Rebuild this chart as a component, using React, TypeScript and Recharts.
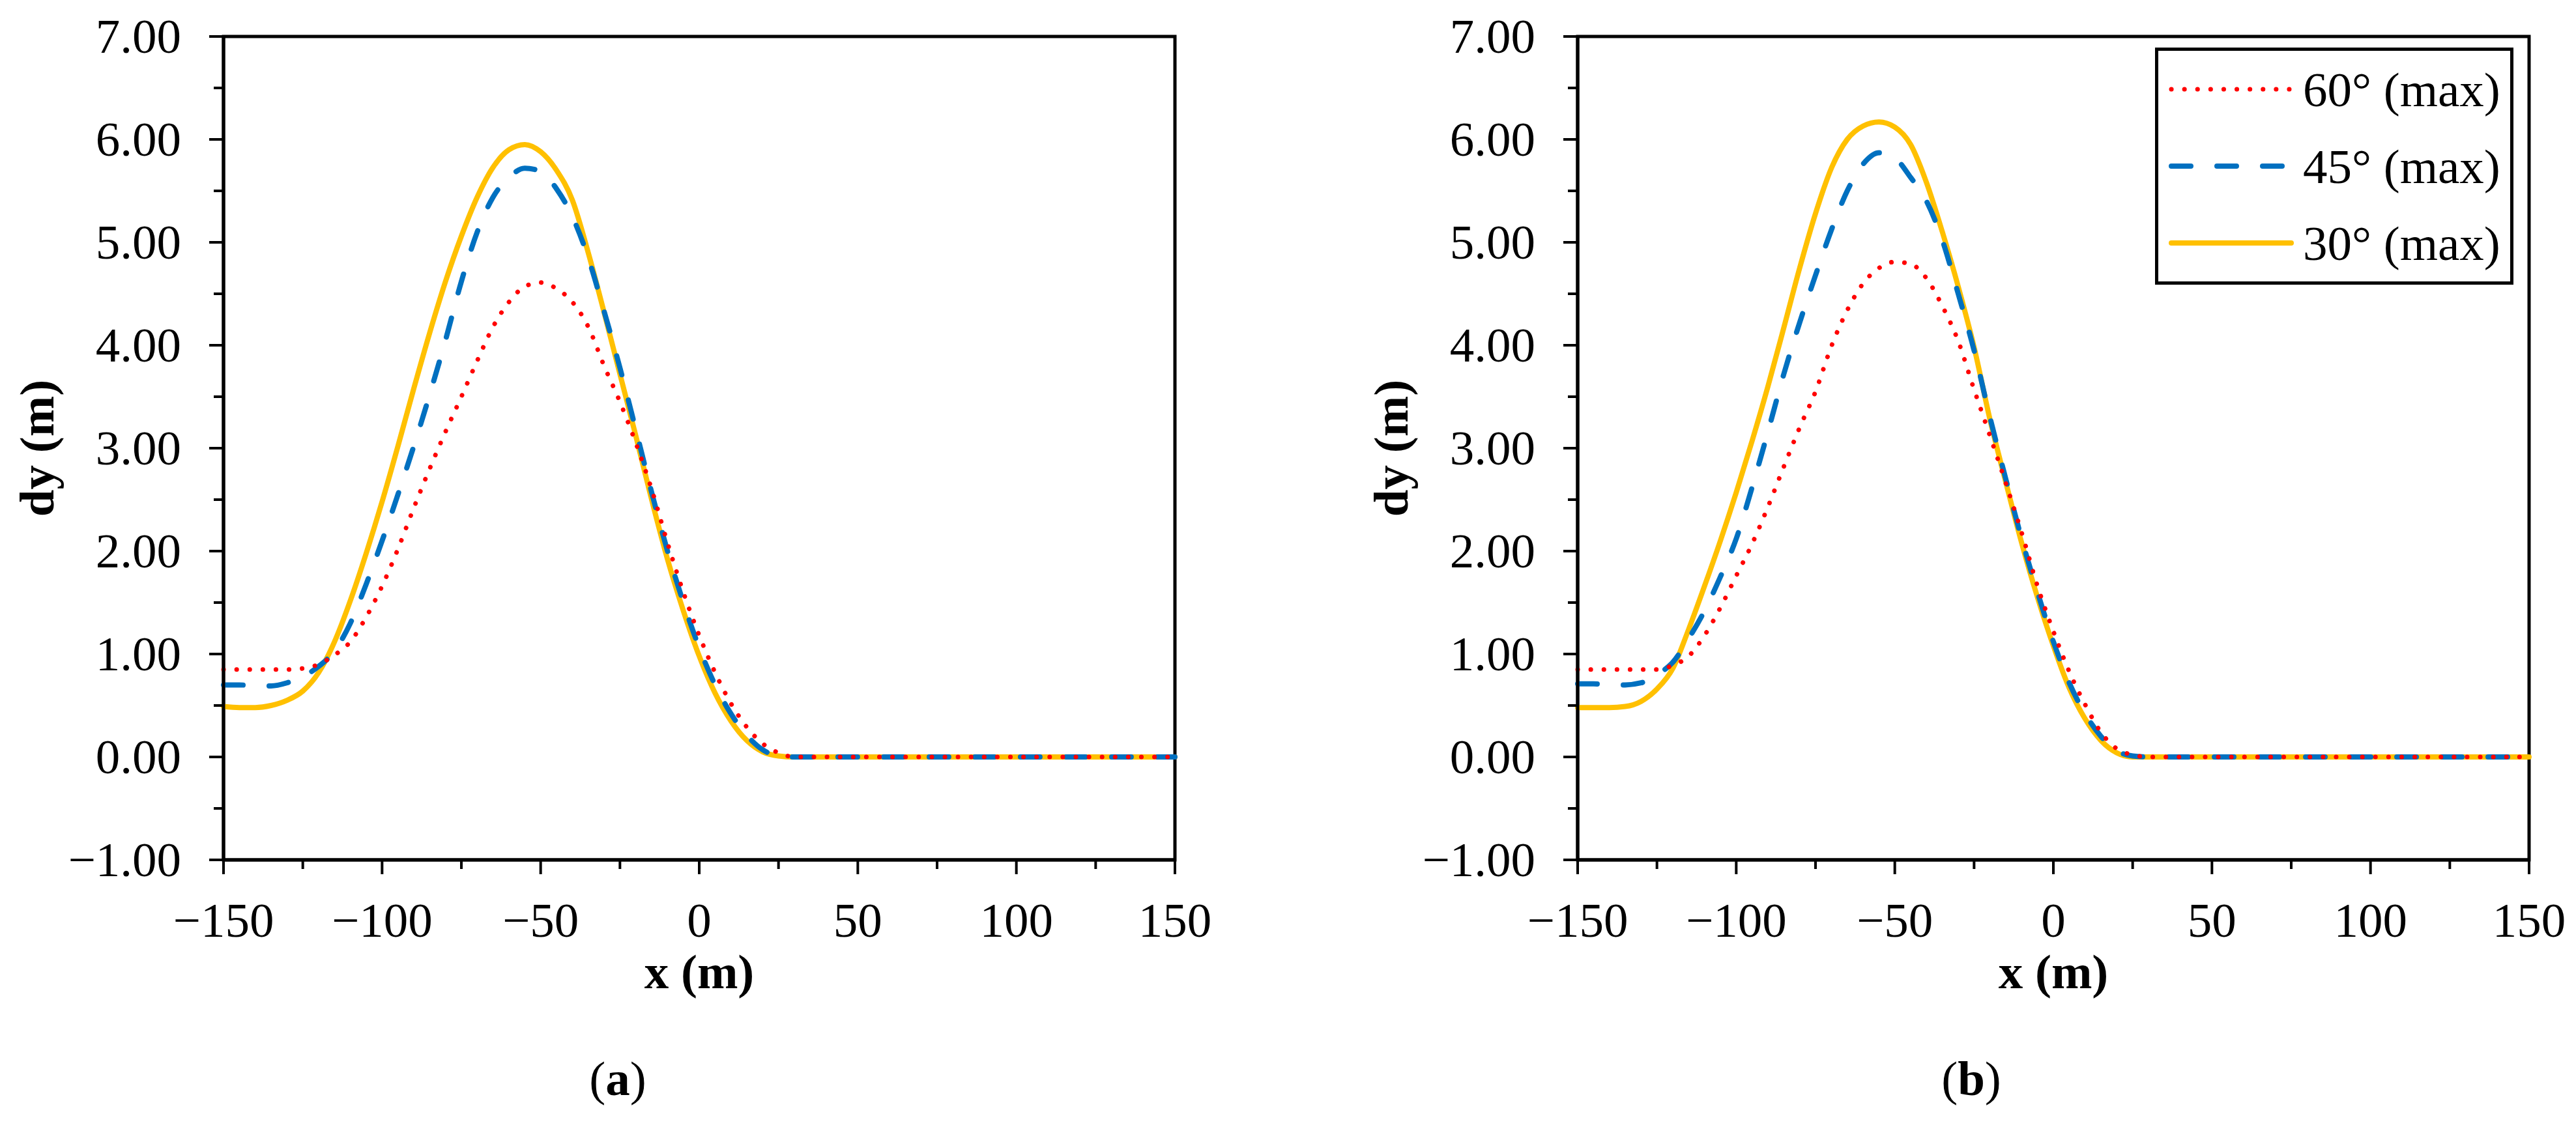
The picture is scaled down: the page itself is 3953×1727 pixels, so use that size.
import React from "react";
import {
  LineChart, Line, XAxis, YAxis, Legend, ReferenceArea,
} from "recharts";

// x positions (m)
const xs = [
  -150, -145, -140, -135, -130, -125, -120, -115, -110, -105, -100, -95, -90,
  -85, -80, -75, -70, -65, -60, -55, -50, -45, -40, -35, -30, -25, -20, -15,
  -10, -5, 0, 5, 10, 15, 20, 25, 30, 40, 50, 60, 70, 80, 90, 100, 110, 120,
  130, 140, 150,
];
const tail = [0, 0, 0, 0, 0, 0, 0, 0, 0, 0, 0, 0];

// panel (a)
const a60 = [
  0.85, 0.85, 0.85, 0.85, 0.85, 0.86, 0.9, 0.99, 1.12, 1.36, 1.66, 2.02, 2.42,
  2.8, 3.16, 3.5, 3.85, 4.18, 4.42, 4.57, 4.61, 4.55, 4.42, 4.18, 3.8, 3.45,
  3.05, 2.6, 2.08, 1.6, 1.18, 0.82, 0.52, 0.29, 0.13, 0.04, 0, ...tail,
];
const a45 = [
  0.7, 0.7, 0.69, 0.69, 0.72, 0.78, 0.88, 1.03, 1.3, 1.68, 2.1, 2.55, 3.02,
  3.52, 4.05, 4.62, 5.1, 5.44, 5.63, 5.72, 5.69, 5.52, 5.25, 4.85, 4.33, 3.78,
  3.18, 2.57, 2.0, 1.5, 1.06, 0.7, 0.42, 0.21, 0.07, 0.01, 0, ...tail,
];
const a30 = [
  0.49, 0.48, 0.48, 0.5, 0.55, 0.64, 0.82, 1.12, 1.52, 1.98, 2.48, 3.02, 3.58,
  4.12, 4.62, 5.06, 5.44, 5.73, 5.9, 5.95, 5.88, 5.7, 5.41, 4.9, 4.32, 3.72,
  3.12, 2.5, 1.92, 1.42, 0.98, 0.62, 0.35, 0.16, 0.05, 0.01, 0, ...tail,
];

// panel (b)
const b60 = [
  0.85, 0.85, 0.85, 0.85, 0.85, 0.85, 0.89, 0.98, 1.18, 1.45, 1.76, 2.07, 2.43,
  2.82, 3.2, 3.55, 3.99, 4.34, 4.6, 4.75, 4.81, 4.79, 4.65, 4.38, 4.04, 3.57,
  3.12, 2.66, 2.18, 1.66, 1.22, 0.83, 0.51, 0.24, 0.08, 0.02, 0, ...tail,
];
const b45 = [
  0.71, 0.71, 0.7, 0.7, 0.72, 0.8, 0.92, 1.15, 1.42, 1.75, 2.12, 2.62, 3.16,
  3.72, 4.22, 4.68, 5.12, 5.5, 5.76, 5.87, 5.82, 5.63, 5.4, 5.02, 4.5, 3.95,
  3.3, 2.7, 2.12, 1.6, 1.12, 0.72, 0.42, 0.2, 0.06, 0.01, 0, ...tail,
];
const b30 = [
  0.48, 0.48, 0.48, 0.49, 0.54, 0.66, 0.86, 1.24, 1.66, 2.1, 2.57, 3.07, 3.6,
  4.17, 4.75, 5.28, 5.72, 6.0, 6.13, 6.17, 6.12, 5.95, 5.58, 5.1, 4.57, 3.98,
  3.28, 2.67, 2.08, 1.55, 1.08, 0.67, 0.37, 0.16, 0.04, 0, 0, ...tail,
];

const xTicks = [-150, -125, -100, -75, -50, -25, 0, 25, 50, 75, 100, 125, 150];
const yTicks = [-1, -0.5, 0, 0.5, 1, 1.5, 2, 2.5, 3, 3.5, 4, 4.5, 5, 5.5, 6, 6.5, 7];

const FONT = '"Liberation Serif", "Times New Roman", serif';
const FS = 75;

const series = [
  { key: "s60", name: "60° (max)", color: "#FF0000", width: 7, dash: "0.1 20" },
  { key: "s45", name: "45° (max)", color: "#0070C0", width: 8, dash: "30 40" },
  { key: "s30", name: "30° (max)", color: "#FFC000", width: 8, dash: undefined },
];

const build = (s60: number[], s45: number[], s30: number[]) =>
  xs.map((x, i) => ({ x, s60: s60[i], s45: s45[i], s30: s30[i] }));

const minus = (s: string) => s.replace("-", "\u2212");

const XTick = (props: any) => {
  const { x, y, payload } = props;
  const major = payload.value % 50 === 0;
  return (
    <g>
      <line x1={x} x2={x} y1={y} y2={y + (major ? 22 : 14)} stroke="#000" strokeWidth={4} />
      {major && (
        <text x={x} y={y + 118} textAnchor="middle" fontFamily={FONT} fontSize={FS} fill="#000">
          {minus(String(payload.value))}
        </text>
      )}
    </g>
  );
};

const YTick = (props: any) => {
  const { x, y, payload } = props;
  const major = Number.isInteger(payload.value);
  return (
    <g>
      <line x1={x - (major ? 22 : 15)} x2={x} y1={y} y2={y} stroke="#000" strokeWidth={4} />
      {major && (
        <text x={x - 65} y={y + 25} textAnchor="end" fontFamily={FONT} fontSize={FS} fill="#000">
          {minus(payload.value.toFixed(2))}
        </text>
      )}
    </g>
  );
};

const LegendBox = () => (
  <div
    style={{
      boxSizing: "border-box", width: 550, height: 364, border: "5px solid #000",
      background: "#fff", fontFamily: FONT, fontSize: FS, lineHeight: 1,
    }}
  >
    {series.map((s) => (
      <div key={s.key} style={{ height: 118, display: "flex", alignItems: "center" }}>
        <svg width={200} height={20} style={{ marginLeft: 14 }}>
          <line
            x1={6} x2={190} y1={10} y2={10} stroke={s.color} strokeWidth={s.width}
            strokeDasharray={s.dash} strokeLinecap="round"
          />
        </svg>
        <span style={{ marginLeft: 8, whiteSpace: "nowrap" }}>{s.name}</span>
      </div>
    ))}
  </div>
);

type PanelProps = {
  data: ReturnType<typeof build>;
  width: number;
  margin: { top: number; right: number; bottom: number; left: number };
  legend?: { left: number; top: number };
};

const Panel = ({ data, width, margin, legend }: PanelProps) => (
  <LineChart width={width} height={1727} data={data} margin={margin}>
    <XAxis
      dataKey="x" type="number" domain={[-150, 150]} ticks={xTicks} interval={0}
      height={100} tickSize={0} tickMargin={0} tickLine={false}
      axisLine={{ stroke: "#000", strokeWidth: 5 }} tick={XTick}
      label={{
        content: (p: any) => (
          <text
            x={p.viewBox.x + p.viewBox.width / 2} y={p.viewBox.y + 197}
            textAnchor="middle" fontFamily={FONT} fontSize={FS} fontWeight="bold" fill="#000"
          >
            x (m)
          </text>
        ),
      }}
    />
    <YAxis
      type="number" domain={[-1, 7]} ticks={yTicks} interval={0} width={100}
      tickSize={0} tickMargin={0} tickLine={false}
      axisLine={{ stroke: "#000", strokeWidth: 5 }} tick={YTick}
      label={{
        content: (p: any) => {
          const cx = p.viewBox.x + p.viewBox.width - 287;
          const cy = p.viewBox.y + p.viewBox.height / 2;
          return (
            <text
              x={cx} y={cy} transform={`rotate(-90 ${cx} ${cy})`} textAnchor="middle"
              dominantBaseline="central" fontFamily={FONT} fontSize={FS} fontWeight="bold" fill="#000"
            >
              dy (m)
            </text>
          );
        },
      }}
    />
    <ReferenceArea
      x1={-150} x2={150} y1={-1} y2={7} fill="none" fillOpacity={0}
      stroke="#000" strokeWidth={5} ifOverflow="visible"
    />
    {[...series].reverse().map((s) => (
      <Line
        key={s.key} dataKey={s.key} name={s.name} type="monotone" dot={false}
        stroke={s.color} strokeWidth={s.width} strokeDasharray={s.dash}
        strokeLinecap="round" isAnimationActive={false}
      />
    ))}
    {legend && (
      <Legend
        layout="vertical" align="center" verticalAlign="middle"
        wrapperStyle={{ position: "absolute", left: legend.left, top: legend.top, width: 550 }}
        content={() => <LegendBox />}
      />
    )}
  </LineChart>
);

export default function App() {
  return (
    <div
      style={{
        position: "absolute", left: 0, top: 0, width: 3953, height: 1727,
        background: "#fff", fontFamily: FONT,
      }}
    >
      <div style={{ position: "absolute", left: 0, top: 0 }}>
        <Panel
          data={build(a60, a45, a30)} width={1976}
          margin={{ top: 56, right: 173, bottom: 307, left: 243 }}
        />
      </div>
      <div style={{ position: "absolute", left: 1976, top: 0 }}>
        <Panel
          data={build(b60, b45, b30)} width={1977}
          margin={{ top: 56, right: 72, bottom: 307, left: 345 }}
          legend={{ left: 1331, top: 73 }}
        />
      </div>
      <svg
        width={3953} height={1727}
        style={{ position: "absolute", left: 0, top: 0, pointerEvents: "none" }}
      >
        <text x={948} y={1681} textAnchor="middle" fontFamily={FONT} fontSize={FS} fill="#000">
          (<tspan fontWeight="bold">a</tspan>)
        </text>
        <text x={3025} y={1681} textAnchor="middle" fontFamily={FONT} fontSize={FS} fill="#000">
          (<tspan fontWeight="bold">b</tspan>)
        </text>
      </svg>
    </div>
  );
}
